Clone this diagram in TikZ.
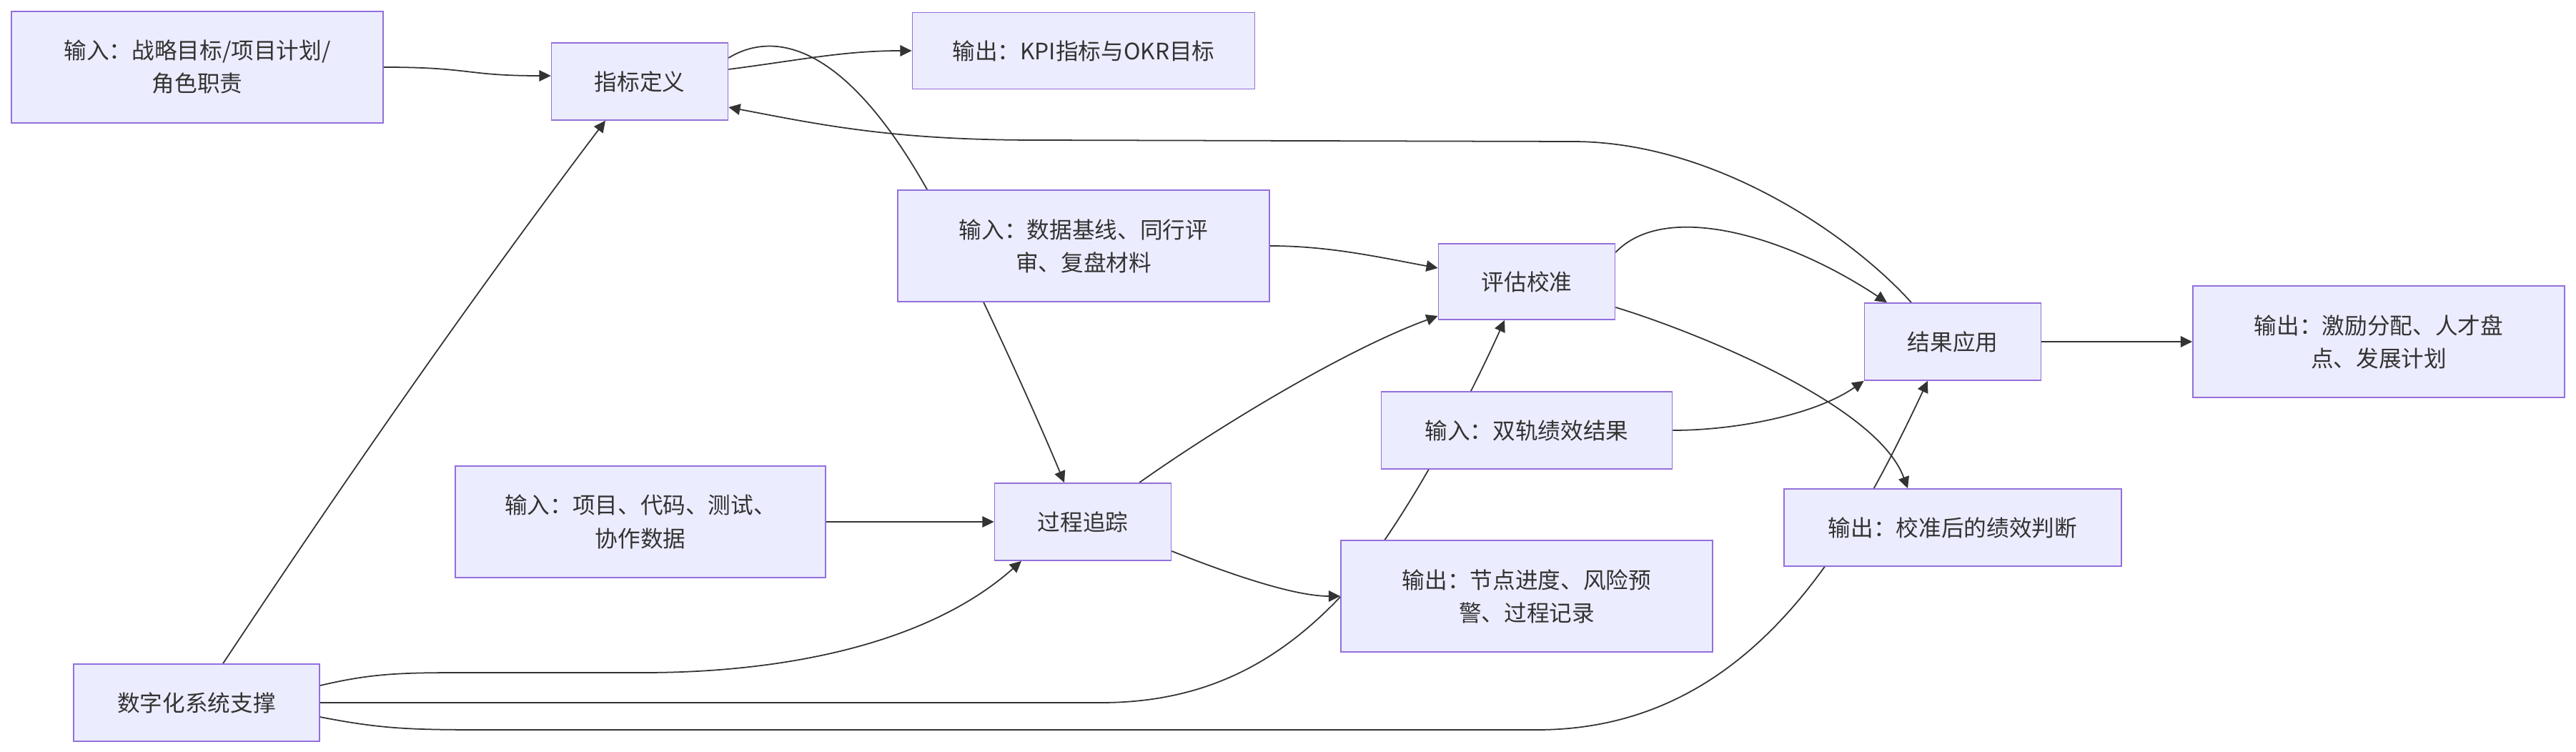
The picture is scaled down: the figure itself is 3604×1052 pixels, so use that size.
\documentclass[tikz,border=0pt]{standalone}
\usepackage{fontspec}
\setmainfont{Noto Sans CJK SC}
\usetikzlibrary{arrows.meta,calc,backgrounds}
\definecolor{boxfill}{HTML}{ECECFF}
\definecolor{boxline}{HTML}{9370DB}
\definecolor{ink}{HTML}{333333}

\begin{document}
\begin{tikzpicture}[x=0.01cm,y=-0.01cm,
  box/.style={draw=boxline,fill=boxfill,line width=0.45pt,text=ink,align=center,inner sep=0pt,font=\fontsize{9}{13.1}\selectfont},
  wide/.style={box,minimum width=5.2cm,minimum height=1.56cm},
  small/.style={box,minimum width=2.47cm,minimum height=1.08cm},
  flow/.style={draw=ink,line width=0.5pt,-{Triangle[length=4.6pt,width=4.4pt]}}]
\useasboundingbox (0,0) rectangle (3604,1052);
\node[wide] (goalin) at (276,94) {输入：战略目标/项目计划/\\角色职责};
\node[small] (define) at (895,114) {指标定义};
\node[box,minimum width=4.79cm,minimum height=1.07cm] (kpiout) at (1516,71) {输出：KPI指标与OKR目标};
\node[wide] (baselinein) at (1516,344) {输入：数据基线、同行评\\审、复盘材料};
\node[wide,minimum width=5.18cm] (datain) at (896,730) {输入：项目、代码、测试、\\协作数据};
\node[small] (track) at (1515,730) {过程追踪};
\node[box,minimum width=3.44cm,minimum height=1.08cm] (digital) at (275,983) {数字化系统支撑};
\node[small,minimum height=1.06cm] (assess) at (2136,394) {评估校准};
\node[box,minimum width=4.07cm,minimum height=1.08cm] (dualin) at (2136,602) {输入：双轨绩效结果};
\node[wide] (trackout) at (2136,834) {输出：节点进度、风险预\\警、过程记录};
\node[small] (apply) at (2732,478) {结果应用};
\node[box,minimum width=4.72cm,minimum height=1.08cm] (judgeout) at (2732,738) {输出：校准后的绩效判断};
\node[wide] (applyout) at (3328,478) {输出：激励分配、人才盘\\点、发展计划};
\begin{pgfonlayer}{background}
\draw[flow] (goalin.east) .. controls (660,94) and (650,106) .. ($(define.west)+(0,-8)$);
\draw[flow] ($(define.east)+(0,-17)$) .. controls (1120,84) and (1180,71) .. (kpiout.west);
\draw[flow] ($(define.east)+(0,-33)$) .. controls (1070,50) and (1170,40) .. (1297,265) .. controls (1342,345) and (1439,555) .. ($(track.north)+(-26,0)$);
\draw[flow] (datain.east) -- (track.west);
\draw[flow] ($(digital.north)+(37,0)$) .. controls (478,678) and (657,420) .. ($(define.south)+(-48,0)$);
\draw[flow] ($(digital.east)+(0,-24)$) .. controls (520,942) and (560,941) .. (650,941) -- (900,941) .. controls (1100,941) and (1300,900) .. ($(track.south)+(-86,0)$);
\draw[flow] (digital.east) -- (1540,983) .. controls (1700,983) and (1800,915) .. (1880,830) .. controls (1960,740) and (2050,570) .. ($(assess.south)+(-31,0)$);
\draw[flow] ($(digital.east)+(0,20)$) .. controls (540,1021) and (580,1021) .. (700,1021) -- (2150,1021) .. controls (2450,1021) and (2590,760) .. ($(apply.south)+(-35,0)$);
\draw[flow] ($(track.north)+(79,0)$) .. controls (1700,600) and (1880,490) .. ($(assess.west)+(0,48)$);
\draw[flow] ($(track.east)+(0,41)$) .. controls (1720,803) and (1810,834) .. (trackout.west);
\draw[flow] (baselinein.east) .. controls (1860,344) and (1930,360) .. ($(assess.west)+(0,-19)$);
\draw[flow] (dualin.east) .. controls (2430,602) and (2540,580) .. (apply.south west);
\draw[flow] ($(assess.east)+(0,-41)$) .. controls (2330,280) and (2500,330) .. ($(apply.north)+(-92,0)$);
\draw[flow] ($(assess.east)+(0,36)$) .. controls (2360,460) and (2625,563) .. ($(judgeout.north)+(-63,0)$);
\draw[flow] (apply.east) -- (applyout.west);
\draw[flow] ($(apply.north)+(-58,0)$) .. controls (2590,330) and (2400,198) .. (2200,198) -- (1450,196) .. controls (1250,196) and (1150,175) .. ($(define.east)+(0,36)$);
\end{pgfonlayer}
\end{tikzpicture}
\end{document}
